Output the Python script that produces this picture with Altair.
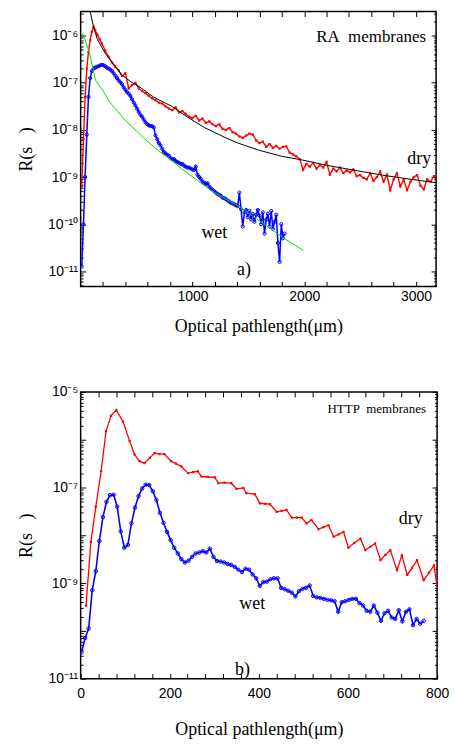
import altair as alt
import pandas as pd

# ---------------- panel a) RA membranes ----------------
# dry (red) : log10 R(s)
a_dry_x_head = [10, 25, 40, 55, 70, 85, 100, 115, 130, 150, 170, 190]
a_dry_log_head = [-9.2, -8.2, -7.3, -6.7, -6.35, -6.1, -5.92, -5.81, -5.88, -5.98, -6.08, -6.17]
a_dry_x0, a_dry_dx = 220, 30
a_dry_log_tail = [
    -6.32, -6.45, -6.57, -6.66, -6.74, -6.86, -6.80, -7.12, -7.05, -7.00,
    -7.12, -7.18, -7.22, -7.28, -7.33, -7.37, -7.42, -7.44, -7.50, -7.55,
    -7.58, -7.52, -7.63, -7.60, -7.66, -7.72, -7.75, -7.70, -7.80, -7.76,
    -7.85, -7.82, -7.88, -7.92, -7.88, -7.98, -8.00, -7.96, -8.05, -8.08,
    -8.14, -8.17, -8.12, -8.08, -8.10, -8.22, -8.28, -8.25, -8.36, -8.30,
    -8.38, -8.34, -8.40, -8.36, -8.35, -8.48, -8.52, -8.56, -8.62, -8.85,
    -8.72, -8.78, -8.70, -8.82, -8.75, -8.80, -8.68, -8.95, -8.82, -8.88,
    -8.80, -8.92, -8.86, -8.90, -8.84, -8.98, -8.96, -9.02, -9.05, -8.92,
    -9.08, -9.00, -8.88, -9.10, -8.95, -9.28, -9.05, -8.92, -9.20, -9.05,
    -9.28, -9.10, -9.00, -8.96, -9.18, -9.26, -9.05, -9.10, -8.98,
]
# wet (blue) : sampled every 15 um starting at 10 um
a_wet_x0, a_wet_dx = 10, 15
a_wet_log = [
    -10.9, -10.0, -9.0, -8.1, -7.3, -6.9, -6.75, -6.7, -6.68, -6.66,
    -6.65, -6.63, -6.62, -6.63, -6.65, -6.68, -6.7, -6.72, -6.75, -6.8,
    -6.85, -6.9, -6.95, -6.99, -7.03, -7.1, -7.15, -7.2, -7.23, -7.28,
    -7.35, -7.42, -7.48, -7.55, -7.62, -7.68, -7.72, -7.78, -7.84, -7.88,
    -7.9, -7.92, -7.92, -7.95, -8.12, -8.2, -8.28, -8.33, -8.4, -8.47,
    -8.5, -8.53, -8.55, -8.6, -8.62, -8.62, -8.66, -8.68, -8.7, -8.72,
    -8.72, -8.76, -8.78, -8.8, -8.8, -8.82, -8.84, -8.85, -8.78, -8.95,
    -9.0, -9.04, -9.1, -9.12, -9.15, -9.13, -9.2, -9.24, -9.27, -9.3,
    -9.33, -9.36, -9.38, -9.4, -9.44, -9.45, -9.47, -9.5, -9.52, -9.55,
    -9.56, -9.58, -9.6, -9.62, -9.33, -9.68, -10.05, -9.75, -9.7, -9.85,
    -9.72, -9.9, -9.78, -9.95, -9.8, -9.7, -9.82, -10.0, -9.75, -10.2,
    -9.9, -9.78, -10.05, -9.72, -10.1, -9.95, -9.8, -10.4, -10.8, -10.0,
    -10.3, -10.2,
]
# fit curves
a_fit_wet_x = [10, 35, 80, 133, 195, 257, 310, 400, 500, 576, 700, 788, 900, 965,
               1100, 1169, 1300, 1408, 1550, 1700, 1833, 1993]
a_fit_wet_log = [-5.95, -6.06, -6.38, -6.95, -7.15, -7.40, -7.55, -7.80, -8.02, -8.2,
                 -8.45, -8.6, -8.82, -8.93, -9.17, -9.29, -9.47, -9.61, -9.85, -10.1,
                 -10.32, -10.56]
a_fit_dry_x = [80, 100, 120, 150, 190, 221, 300, 372, 450, 522, 650, 815, 950, 1107,
               1300, 1408, 1594, 1800, 1984, 2200, 2480, 2700, 2870, 3050, 3180]
a_fit_dry_log = [-5.42, -5.65, -5.85, -6.08, -6.25, -6.38, -6.62, -6.84, -6.98, -7.08,
                 -7.3, -7.5, -7.72, -7.95, -8.17, -8.28, -8.43, -8.56, -8.64, -8.75,
                 -8.87, -8.96, -9.02, -9.08, -9.12]

# ---------------- panel b) HTTP membranes ----------------
b_dry_x = [12, 23, 34, 46, 57, 68, 80, 95, 110, 121, 132, 143, 155, 166, 177, 188, 203,
           214, 226, 241, 252, 263, 271, 286, 301, 309, 323, 338, 350, 365, 372, 391, 402,
           414, 425, 440, 451, 462, 474, 485, 496, 507, 518, 534, 545, 556, 568, 579, 590,
           601, 614, 628, 639, 650, 661, 673, 684, 695, 710, 721, 733, 744, 755, 770, 782,
           793, 800]
b_dry_log = [-9.47, -8.14, -7.4, -6.66, -5.82, -5.5, -5.38, -5.62, -6.03, -6.31,
             -6.45, -6.49, -6.38, -6.28, -6.3, -6.3, -6.45, -6.5, -6.56, -6.7,
             -6.68, -6.66, -6.77, -6.78, -6.79, -6.91, -6.9, -6.91, -7.03, -7.01,
             -7.12, -7.14, -7.33, -7.34, -7.35, -7.51, -7.49, -7.47, -7.63, -7.63,
             -7.63, -7.75, -7.68, -7.87, -7.83, -7.79, -8.03, -7.98, -7.93, -8.26,
             -8.16, -8.07, -8.31, -8.24, -8.17, -8.52, -8.41, -8.31, -8.73, -8.42,
             -8.83, -8.68, -8.52, -8.94, -8.78, -8.63, -9.08]
b_wet_x0, b_wet_dx = 2, 8
b_wet_log = [
    -10.45, -10.15, -9.95, -9.15, -8.75, -8.12, -7.62, -7.3, -7.16, -7.15,
    -7.4, -7.92, -8.26, -8.2, -7.75, -7.42, -7.18, -7.02, -6.94, -6.95,
    -7.08, -7.26, -7.53, -7.74, -7.93, -8.1, -8.26, -8.38, -8.5, -8.57,
    -8.53, -8.45, -8.38, -8.36, -8.33, -8.36, -8.28, -8.45, -8.54, -8.55,
    -8.57, -8.6, -8.62, -8.66, -8.72, -8.77, -8.7, -8.72, -8.82, -8.9,
    -9.06, -8.98, -8.97, -8.92, -8.9, -8.9, -9.1, -9.13, -9.16, -9.2,
    -9.28, -9.17, -9.12, -9.1, -9.05, -9.27, -9.3, -9.31, -9.33, -9.35,
    -9.36, -9.38, -9.6, -9.4, -9.38, -9.35, -9.33, -9.33, -9.42, -9.47,
    -9.58, -9.6, -9.47, -9.62, -9.79, -9.63, -9.58, -9.72, -9.75, -9.57,
    -9.8, -9.6, -9.55, -9.88, -9.75, -9.85, -9.79,
]

# annotations (data coordinates)
a_notes_text = ["dry", "wet", "a)"]
a_notes_x = [3029, 1196, 1461]
a_notes_log = [-8.62, -10.18, -10.98]
b_notes_text = ["dry", "wet", "b)"]
b_notes_x = [741, 385, 363]
b_notes_log = [-7.67, -9.44, -10.81]


def frame(xs, logs):
    return pd.DataFrame({"x": xs, "R": [10.0 ** v for v in logs]})


a_dry = frame(a_dry_x_head + [a_dry_x0 + a_dry_dx * i for i in range(len(a_dry_log_tail))],
              a_dry_log_head + a_dry_log_tail)
a_wet = frame([a_wet_x0 + a_wet_dx * i for i in range(len(a_wet_log))], a_wet_log)
a_fw = frame(a_fit_wet_x, a_fit_wet_log)
a_fd = frame(a_fit_dry_x, a_fit_dry_log)
b_dry = frame(b_dry_x, b_dry_log)
b_wet = frame([b_wet_x0 + b_wet_dx * i for i in range(len(b_wet_log))], b_wet_log)
a_notes = pd.DataFrame({"t": a_notes_text, "x": a_notes_x, "R": [10.0 ** v for v in a_notes_log]})
b_notes = pd.DataFrame({"t": b_notes_text, "x": b_notes_x, "R": [10.0 ** v for v in b_notes_log]})
a_title = pd.DataFrame({"t": ["RA\u00a0 membranes"], "x": [3090], "R": [10.0 ** -6.04]})
b_title = pd.DataFrame({"t": ["HTTP\u00a0 membranes"], "x": [775], "R": [10.0 ** -5.36]})

SANS = "Liberation Sans"
SERIF = "Liberation Serif"
SUP = str.maketrans("-0123456789", "\u207b\u2070\u00b9\u00b2\u00b3\u2074\u2075\u2076\u2077\u2078\u2079")


def pow_expr(exps):
    e = "round(log(datum.value) / LN10)"
    parts = [f"{e} == {n} ? '10{str(n).translate(SUP)}'" for n in exps]
    return " : ".join(parts) + " : ''"


def ticks(lo_log, hi_log):
    import math
    major = [10.0 ** e for e in range(math.ceil(lo_log), math.floor(hi_log) + 1)]
    minor = [k * 10.0 ** e for e in range(math.floor(lo_log), math.ceil(hi_log) + 1)
             for k in range(2, 10)]
    minor = [v for v in minor if 10 ** lo_log <= v <= 10 ** hi_log]
    return major, minor


def ax(orient, values, size, labels=False, **kw):
    base = dict(orient=orient, values=values, tickSize=size, offset=-size, domain=False,
                grid=False, labels=labels, tickColor="black", tickWidth=1, title=None,
                labelFont=SANS, labelFontSize=14, labelColor="black", labelOverlap=False,
                labelFlush=False, labelBound=False, labelPadding=3,
                titleFont=SERIF, titleFontSize=18, titleFontWeight="normal", titleColor="black")
    base.update(kw)
    return alt.Axis(**base)


def panel(series, notes, title_df, title_fs, xdom, ylog, xticks, xlab_every, ylabel_exps,
          w, h, xlab_pad, xtitle_pad, ytitle_pad):
    xs = alt.Scale(domain=xdom, nice=False, zero=False)
    ys = alt.Scale(type="log", domain=[10 ** ylog[0], 10 ** ylog[1]], nice=False)
    major, minor = ticks(*ylog)
    ax_b = ax("bottom", xticks, 5, labels=True, format="d",
              labelExpr=f"datum.value % {xlab_every} == 0 ? datum.label : ''",
              title="Optical pathlength(\u03bcm)", titlePadding=xtitle_pad,
              labelPadding=xlab_pad)
    ax_t = ax("top", xticks, 5)
    ax_l = ax("left", major, 5, labels=True, labelExpr=pow_expr(ylabel_exps),
              title="R(s\u00a0\u00a0\u00a0)", titlePadding=ytitle_pad)
    ax_r = ax("right", major, 5)
    ax_lm = ax("left", minor, 2.5)
    ax_rm = ax("right", minor, 2.5)
    xaxes = [ax_b, ax_t, None, None]
    yaxes = [ax_l, ax_r, ax_lm, ax_rm]
    layers = []
    for i, (df, kind, props) in enumerate(series):
        xa = xaxes[i] if i < 4 else None
        ya = yaxes[i] if i < 4 else None
        ch = alt.Chart(df)
        if kind == "line":
            ch = ch.mark_line(clip=True, **props)
        else:
            ch = ch.mark_point(clip=True, **props)
        layers.append(ch.encode(x=alt.X("x:Q", scale=xs, axis=xa),
                                y=alt.Y("R:Q", scale=ys, axis=ya)))
    for df, size, align in [(notes, 18, "center"), (title_df, title_fs, "right")]:
        layers.append(alt.Chart(df).mark_text(font=SERIF, fontSize=size, align=align,
                                              baseline="middle", color="black").encode(
            x=alt.X("x:Q", scale=xs, axis=None), y=alt.Y("R:Q", scale=ys, axis=None),
            text="t:N"))
    return alt.layer(*layers).resolve_axis(x="independent", y="independent").properties(
        width=w, height=h)


RED, BLUE, GREEN = "#ff0000", "#0000ff", "#00e000"

top = panel(
    [
        (a_dry, "line", dict(color=RED, strokeWidth=1.4)),
        (a_dry, "pt", dict(color=RED, shape="square", filled=True, size=5, opacity=1)),
        (a_wet, "line", dict(color=BLUE, strokeWidth=1.5)),
        (a_wet, "pt", dict(color=BLUE, filled=False, size=10, strokeWidth=1, opacity=1)),
        (a_fw, "line", dict(color=GREEN, strokeWidth=1)),
        (a_fd, "line", dict(color="black", strokeWidth=1)),
    ],
    a_notes, a_title, 17, [0, 3180], (-11.32, -5.49),
    list(range(200, 3001, 200)), 1000, list(range(-11, -5)), 357, 276, 3, 14, 12)

bottom = panel(
    [
        (b_dry, "line", dict(color=RED, strokeWidth=1.3)),
        (b_dry, "pt", dict(color=RED, shape="square", filled=True, size=5, opacity=1)),
        (b_wet, "line", dict(color=BLUE, strokeWidth=1.6)),
        (b_wet, "pt", dict(color=BLUE, filled=False, size=12, strokeWidth=1, opacity=1)),
    ],
    b_notes, b_title, 13, [0, 800], (-11, -5),
    list(range(0, 801, 40)), 200, [-11, -9, -7, -5], 358, 288, 8, 20, 12)

chart = alt.vconcat(top, bottom, spacing=48).properties(
    padding={"left": 17, "top": 8, "right": 5, "bottom": 5}
).configure_view(stroke="black", strokeWidth=1.5)

chart.save("out.html", embed_options={"renderer": "svg", "actions": False})
